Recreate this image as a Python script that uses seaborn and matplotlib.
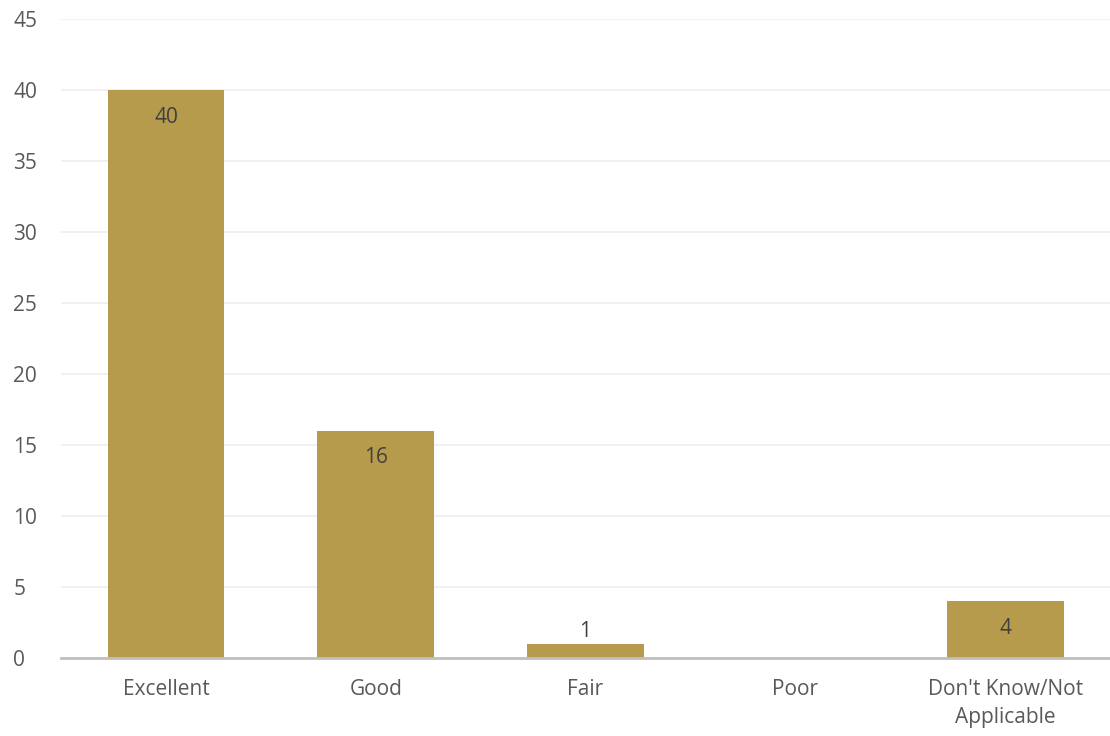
import pandas as pd
import matplotlib.pyplot as plt
import seaborn as sns

# data
categories = ['Excellent', 'Good', 'Fair', 'Poor', "Don't Know/Not\nApplicable"]
counts = [40, 16, 1, 0, 4]
yticks = [0, 5, 10, 15, 20, 25, 30, 35, 40, 45]

df = pd.DataFrame({'Rating': categories, 'Count': counts})

sns.set_style('white')
plt.rcParams['font.family'] = ['Open Sans', 'DejaVu Sans']

fig = plt.figure(figsize=(11.1, 7.36), dpi=100)
ax = fig.add_axes([0.055, 0.106, 0.945, 0.868])

sns.barplot(x='Rating', y='Count', data=df, color='#B69B4C', saturation=1,
            width=0.557, linewidth=0, ax=ax, zorder=3)

ax.set_ylim(0, 45)
ax.set_yticks(yticks)
ax.set_xlim(-0.5, len(categories) - 0.5)
ax.grid(axis='y', color='#EEEEEE', linewidth=1.2, zorder=0)
ax.set_xlabel('')
ax.set_ylabel('')
for s in ['top', 'right', 'left']:
    ax.spines[s].set_visible(False)
ax.spines['bottom'].set_color('#BFBFBF')
ax.spines['bottom'].set_linewidth(2)
ax.spines['bottom'].set_zorder(4)
ax.tick_params(axis='both', length=0, labelsize=15, labelcolor='#595959')
ax.tick_params(axis='x', pad=15)
ax.tick_params(axis='y', pad=34.5)
for lbl in ax.get_yticklabels():
    lbl.set_horizontalalignment('left')
for lbl in ax.get_xticklabels():
    lbl.set_linespacing(1.45)

# value labels: inside end, or just above for very short bars
for i, v in enumerate(counts):
    if v == 0:
        continue
    if v >= 3:
        ax.text(i, v - 1.9, str(v), ha='center', va='center', fontsize=15, color='#404040', zorder=5)
    else:
        ax.text(i, v + 0.1, str(v), ha='center', va='bottom', fontsize=15, color='#404040', zorder=5)

fig.savefig('out.png', dpi=100)
